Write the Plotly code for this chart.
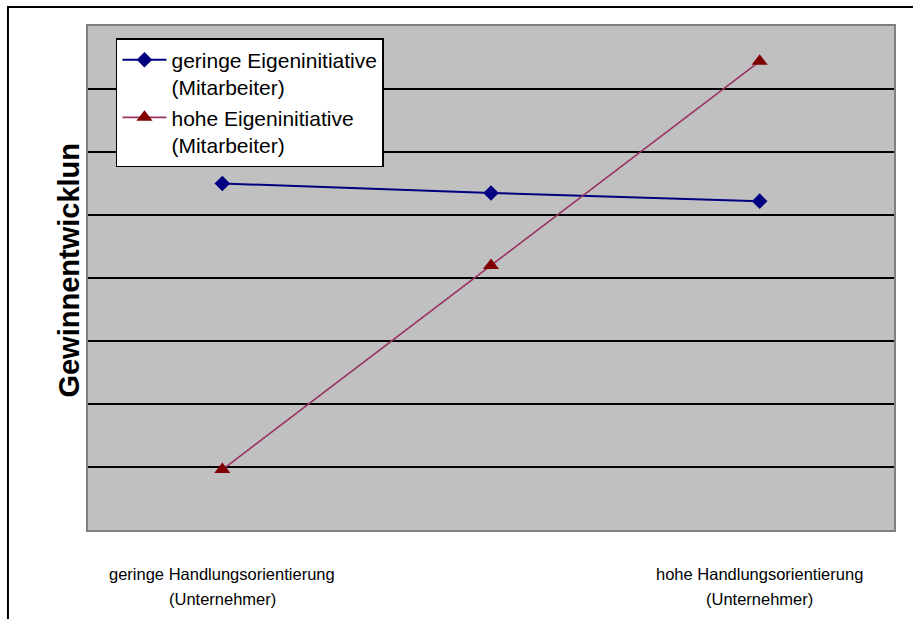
import plotly.graph_objects as go

# Categories on the x axis (the middle one carries no label)
categories = ["gering", "mittel", "hoch"]
category_labels = [
    ["geringe Handlungsorientierung", "(Unternehmer)"],
    ["", ""],
    ["hohe Handlungsorientierung", "(Unternehmer)"],
]

# Series values
series_names = [
    "geringe Eigeninitiative<br>(Mitarbeiter)",
    "hohe Eigeninitiative<br>(Mitarbeiter)",
]
low_initiative = [5.5, 5.35, 5.22]
high_initiative = [0.96, 4.2, 7.44]

y_title = "Gewinnentwicklun"
y_min, y_max, y_step = 0, 8, 1

FONT = "Liberation Sans, Arial, sans-serif"

fig = go.Figure()
fig.add_trace(go.Scatter(
    x=categories, y=low_initiative, name=series_names[0],
    mode="lines+markers",
    line=dict(color="#000080", width=2),
    marker=dict(symbol="diamond", size=12, color="#000080"),
))
fig.add_trace(go.Scatter(
    x=categories, y=high_initiative, name=series_names[1],
    mode="lines+markers",
    line=dict(color="#993366", width=1.6),
    marker=dict(symbol="triangle-up", size=14, color="#800000"),
))

annotations = []
# two-line category labels below the plot area
for cat, lines in zip(categories, category_labels):
    for i, txt in enumerate(lines):
        if not txt:
            continue
        annotations.append(dict(
            x=cat, xref="x", y=-0.088 - i * 0.048, yref="paper",
            text=txt, showarrow=False, xanchor="center", yanchor="middle",
            font=dict(family=FONT, size=16.5, color="black"),
        ))
# vertical axis title
annotations.append(dict(
    x=-0.024, xref="paper", y=0.516, yref="paper",
    text="<b>" + y_title + "</b>", textangle=-90, showarrow=False,
    xanchor="center", yanchor="middle",
    font=dict(family=FONT, size=29, color="black"),
))

fig.update_layout(
    width=913, height=619,
    margin=dict(l=88, r=19, t=26, b=89),
    paper_bgcolor="white",
    plot_bgcolor="#c0c0c0",
    font=dict(family=FONT, color="black"),
    showlegend=True,
    legend=dict(
        x=0.0347, y=0.976, xanchor="left", yanchor="top",
        bgcolor="white", bordercolor="black", borderwidth=1.5,
        font=dict(family=FONT, size=21, color="black"),
        valign="top", itemwidth=44,
    ),
    annotations=annotations,
    shapes=[dict(
        type="rect", xref="paper", yref="paper",
        x0=-0.0993, x1=1.2, y0=-0.5, y1=1.0377,
        line=dict(color="black", width=2), fillcolor="rgba(0,0,0,0)",
        layer="below",
    )],
)
fig.update_xaxes(
    type="category", range=[-0.5, 2.5],
    showticklabels=False, ticks="", showgrid=False, zeroline=False,
    showline=True, mirror=True, linecolor="#808080", linewidth=2,
)
fig.update_yaxes(
    range=[y_min, y_max], dtick=y_step, tick0=0,
    showticklabels=False, ticks="",
    showgrid=True, gridcolor="black", gridwidth=1.5, zeroline=False,
    showline=True, mirror=True, linecolor="#808080", linewidth=2,
)

fig.write_html("out.html")
